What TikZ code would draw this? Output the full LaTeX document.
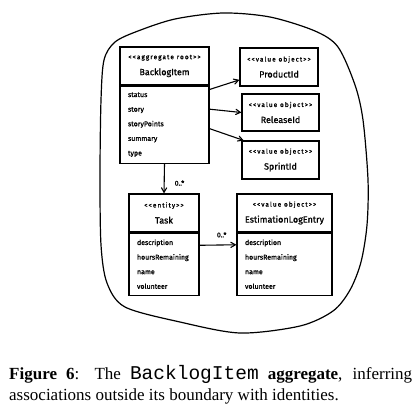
\documentclass[tikz,border=0pt]{standalone}
\usepackage{fontspec}
\setmainfont{Liberation Serif}
\setmonofont{Liberation Mono}
\newfontfamily\sketchfont[FakeBold=1]{Fira Sans}
\newfontfamily\stereofont[LetterSpace=16,FakeBold=1]{Fira Sans}
\usepackage{tikz}
\usetikzlibrary{arrows}
\usetikzlibrary{positioning}

\begin{document}
\begin{tikzpicture}[
            x=1pt, y=-1pt,
            classhead/.style={draw=black, line width=1.2pt, align=center, inner sep=0pt, minimum height=38pt, font=\stereofont\fontsize{6.5}{16}\selectfont},
            classattrs/.style={draw=black, line width=1.2pt, align=left, inner xsep=8pt, inner ysep=0pt, font=\sketchfont\fontsize{7}{14.6}\selectfont},
            assoc/.style={draw, line width=1.1pt, -angle 60},
            mult/.style={font=\sketchfont\fontsize{7}{8}\selectfont, inner sep=0pt}
        ]
            \useasboundingbox (0,0) rectangle (419,410);
            % aggregate boundary
            \draw [line width=1.2pt] plot [smooth cycle] coordinates {
                (115,42) (104,60) (101,100) (100,175) (101,245) (107,283) (125,307)
                (180,322) (240,333) (300,326) (333,311) (350,290) (361,262) (367,225)
                (368,180) (363,120) (355,85) (338,47) (315,31) (270,17) (223,13)
                (175,19) (138,31)};
            \node [classhead, minimum width=89pt] (backlog) at (164.5,66) {<{}<aggregate root>{}>\\{\sketchfont\fontsize{9}{16}\selectfont BacklogItem}};
            \node [classattrs, text width=73pt, minimum height=77pt, below=0pt of backlog] (backlogattrs) {status\\story\\storyPoints\\summary\\type};
            \node [classhead, minimum width=78pt] (product) at (279,67) {<{}<value object>{}>\\{\sketchfont\fontsize{9}{16}\selectfont ProductId}};
            \node [classhead, minimum width=77pt, minimum height=37pt] (release) at (280.5,112.5) {<{}<value object>{}>\\{\sketchfont\fontsize{9}{16}\selectfont ReleaseId}};
            \node [classhead, minimum width=77pt] (sprint) at (280.5,160) {<{}<value object>{}>\\{\sketchfont\fontsize{9}{16}\selectfont SprintId}};
            \node [classhead, minimum width=70pt] (task) at (164,213) {<{}<entity>{}>\\{\sketchfont\fontsize{9}{16}\selectfont Task}};
            \node [classattrs, text width=54pt, minimum height=62pt, below=0pt of task] (taskattrs) {description\\hoursRemaining\\name\\volunteer};
            \node [classhead, minimum width=95pt] (estimation) at (284.5,213) {<{}<value object>{}>\\{\sketchfont\fontsize{9}{16}\selectfont EstimationLogEntry}};
            \node [classattrs, text width=79pt, minimum height=62pt, below=0pt of estimation] (estimationattrs) {description\\hoursRemaining\\name\\volunteer};
            \draw [assoc] (backlogattrs.38) -- (product.198);
            \draw [assoc] (backlogattrs.19) -- (release.west);
            \draw [assoc] (backlogattrs.-5) -- (sprint.152);
            \draw [assoc] (backlogattrs.south) -- node [mult, pos=0.65, right=10pt] {0..*} (task.north);
            \draw [assoc] (taskattrs.28) -- node [mult, pos=0.6, above=7pt] {0..*} (estimationattrs.158);
            \node [anchor=north west, inner sep=0pt, text width=403pt, align=justify, font=\fontsize{17}{21}\selectfont] (caption) at (9,365) {\textbf{Figure 6}: The {\ttfamily\fontsize{19.5}{21}\selectfont BacklogItem} \textbf{aggregate}, inferring\linebreak associations outside its boundary with identities.};
        \end{tikzpicture}
\end{document}
